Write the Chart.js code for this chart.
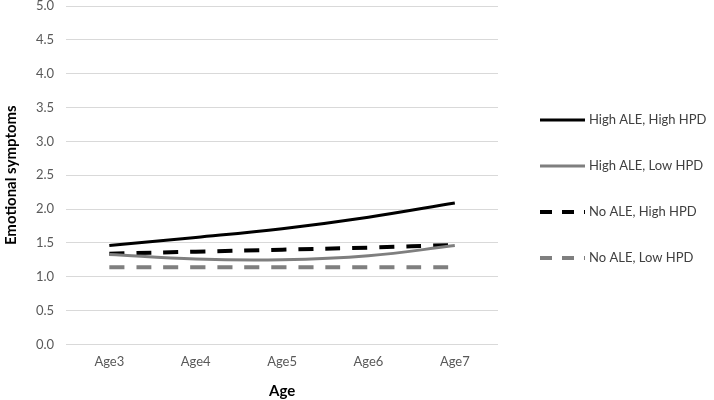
<!DOCTYPE html>
<html>
<head>
<meta charset="utf-8">
<script src="https://cdn.jsdelivr.net/npm/chart.js@4/dist/chart.umd.min.js"></script>
<style>
  html, body { margin: 0; padding: 0; background: #fff; }
  #wrap { width: 714px; height: 400px; }
</style>
</head>
<body>
<div id="wrap"><canvas id="chart" width="714" height="400"></canvas></div>
<script>
// valores
const ages = ['Age3', 'Age4', 'Age5', 'Age6', 'Age7'];
const highAleHighHpd = [1.46, 1.58, 1.71, 1.88, 2.09];
const highAleLowHpd = [1.33, 1.26, 1.25, 1.31, 1.46];
const noAleHighHpd = [1.34, 1.37, 1.40, 1.43, 1.47];
const noAleLowHpd = [1.14, 1.14, 1.14, 1.14, 1.14];
const seriesNames = ['High ALE, High HPD', 'High ALE, Low HPD', 'No ALE, High HPD', 'No ALE, Low HPD'];

const fontFam = 'Lato, "Open Sans", sans-serif';
Chart.defaults.font.family = fontFam;
Chart.defaults.color = '#595959';

function serie(label, data, color, dash, width) {
    return {
        label: label,
        data: data,
        borderColor: color,
        backgroundColor: color,
        borderWidth: width,
        borderDash: dash,
        borderCapStyle: 'butt',
        pointRadius: 0,
        tension: 0.4,
        fill: false
    };
}

// leyenda a la derecha, dibujada a mano para controlar la posicion
const sideLegend = {
    id: 'sideLegend',
    afterDraw(chart) {
        const ctx = chart.ctx;
        const x0 = chart.chartArea.right + 42;
        const lineLen = 45;
        const top = 120;
        const step = 46;
        ctx.save();
        chart.data.datasets.forEach((ds, i) => {
            const y = top + i * step;
            ctx.beginPath();
            ctx.setLineDash(ds.borderDash.length ? [12, 10] : []);
            ctx.lineWidth = ds.borderWidth;
            ctx.strokeStyle = ds.borderColor;
            ctx.moveTo(x0, y);
            ctx.lineTo(x0 + lineLen, y);
            ctx.stroke();
            ctx.setLineDash([]);
            ctx.fillStyle = '#404040';
            ctx.font = '13px ' + fontFam;
            ctx.textBaseline = 'middle';
            ctx.textAlign = 'left';
            ctx.fillText(ds.label, x0 + lineLen + 4, y);
        });
        ctx.restore();
    }
};

new Chart(document.getElementById('chart').getContext('2d'), {
    type: 'line',
    data: {
        labels: ages,
        datasets: [
            serie(seriesNames[0], highAleHighHpd, '#000000', [], 3),
            serie(seriesNames[1], highAleLowHpd, '#7f7f7f', [], 3),
            serie(seriesNames[2], noAleHighHpd, '#000000', [15, 12], 4),
            serie(seriesNames[3], noAleLowHpd, '#7f7f7f', [15, 12], 4)
        ]
    },
    options: {
        responsive: false,
        animation: false,
        layout: { padding: { top: 6, left: 0, right: 216, bottom: 0 } },
        plugins: {
            tooltip: { enabled: false },
            legend: { display: false }
        },
        scales: {
            x: {
                offset: true,
                grid: { display: false, drawTicks: false },
                border: { display: false },
                ticks: { font: { size: 13 }, padding: 10 },
                title: { display: true, text: 'Age', font: { size: 15, weight: 'bold' }, color: '#000', padding: { top: 2, bottom: 0 } }
            },
            y: {
                min: 0,
                max: 5,
                afterFit: s => { s.paddingTop = 0; s.paddingBottom = 0; },
                grid: { color: '#d9d9d9', drawTicks: false, lineWidth: 1 },
                border: { display: false },
                ticks: { stepSize: 0.5, padding: 12, font: { size: 13 }, callback: v => v.toFixed(1) },
                title: { display: true, text: 'Emotional symptoms', font: { size: 15, weight: 'bold' }, color: '#000', padding: { top: 2, bottom: 4 } }
            }
        }
    },
    plugins: [sideLegend]
});
</script>
</body>
</html>
